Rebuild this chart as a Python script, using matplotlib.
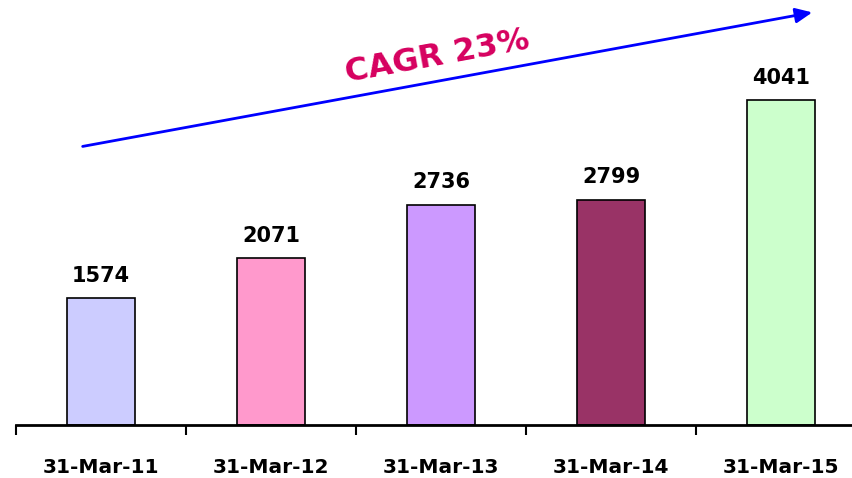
import matplotlib.pyplot as plt
import numpy as np

# data
dates = ["31-Mar-11", "31-Mar-12", "31-Mar-13", "31-Mar-14", "31-Mar-15"]
values = [1574, 2071, 2736, 2799, 4041]
colors = ["#CCCCFF", "#FF99CC", "#CC99FF", "#993366", "#CCFFCC"]
cagr_label = "CAGR 23%"

fig = plt.figure(figsize=(8.53, 4.78), dpi=100)
# axes spans the category boundaries, baseline at the x axis
ax = fig.add_axes([16 / 853, 53 / 478, 850 / 853, 425 / 478])

x = np.arange(len(dates))
bars = ax.bar(x, values, width=0.4, color=colors, edgecolor="black", linewidth=1.2)

for b, v in zip(bars, values):
    ax.annotate(str(v), (b.get_x() + b.get_width() / 2, v), xytext=(0, 9),
                textcoords="offset points", ha="center", va="bottom",
                fontsize=15, fontweight="bold", color="black")

ax.set_xlim(-0.5, len(dates) - 0.5)
ax.set_ylim(0, 5285)

for s in ["top", "right", "left"]:
    ax.spines[s].set_visible(False)
ax.spines["bottom"].set_linewidth(2)
ax.set_yticks([])

ax.set_xticks(x)
ax.set_xticklabels(dates, fontsize=14.5, fontweight="bold")
ax.tick_params(axis="x", which="major", length=0, pad=24)
ax.set_xticks(np.arange(len(dates) + 1) - 0.5, minor=True)
ax.tick_params(axis="x", which="minor", length=7, width=1.5, direction="out")

# growth arrow
ax.annotate("", xy=(4.2, 5137), xytext=(-0.124, 3458),
            arrowprops=dict(arrowstyle="-|>,head_length=1.0,head_width=0.45",
                            color="#0000FF", lw=2))
ax.text(1.98, 4580, cagr_label, rotation=10.4, rotation_mode="anchor",
        ha="center", va="center", fontsize=23, fontweight="bold", color="#D6005F")

fig.savefig("out.png", dpi=100)
